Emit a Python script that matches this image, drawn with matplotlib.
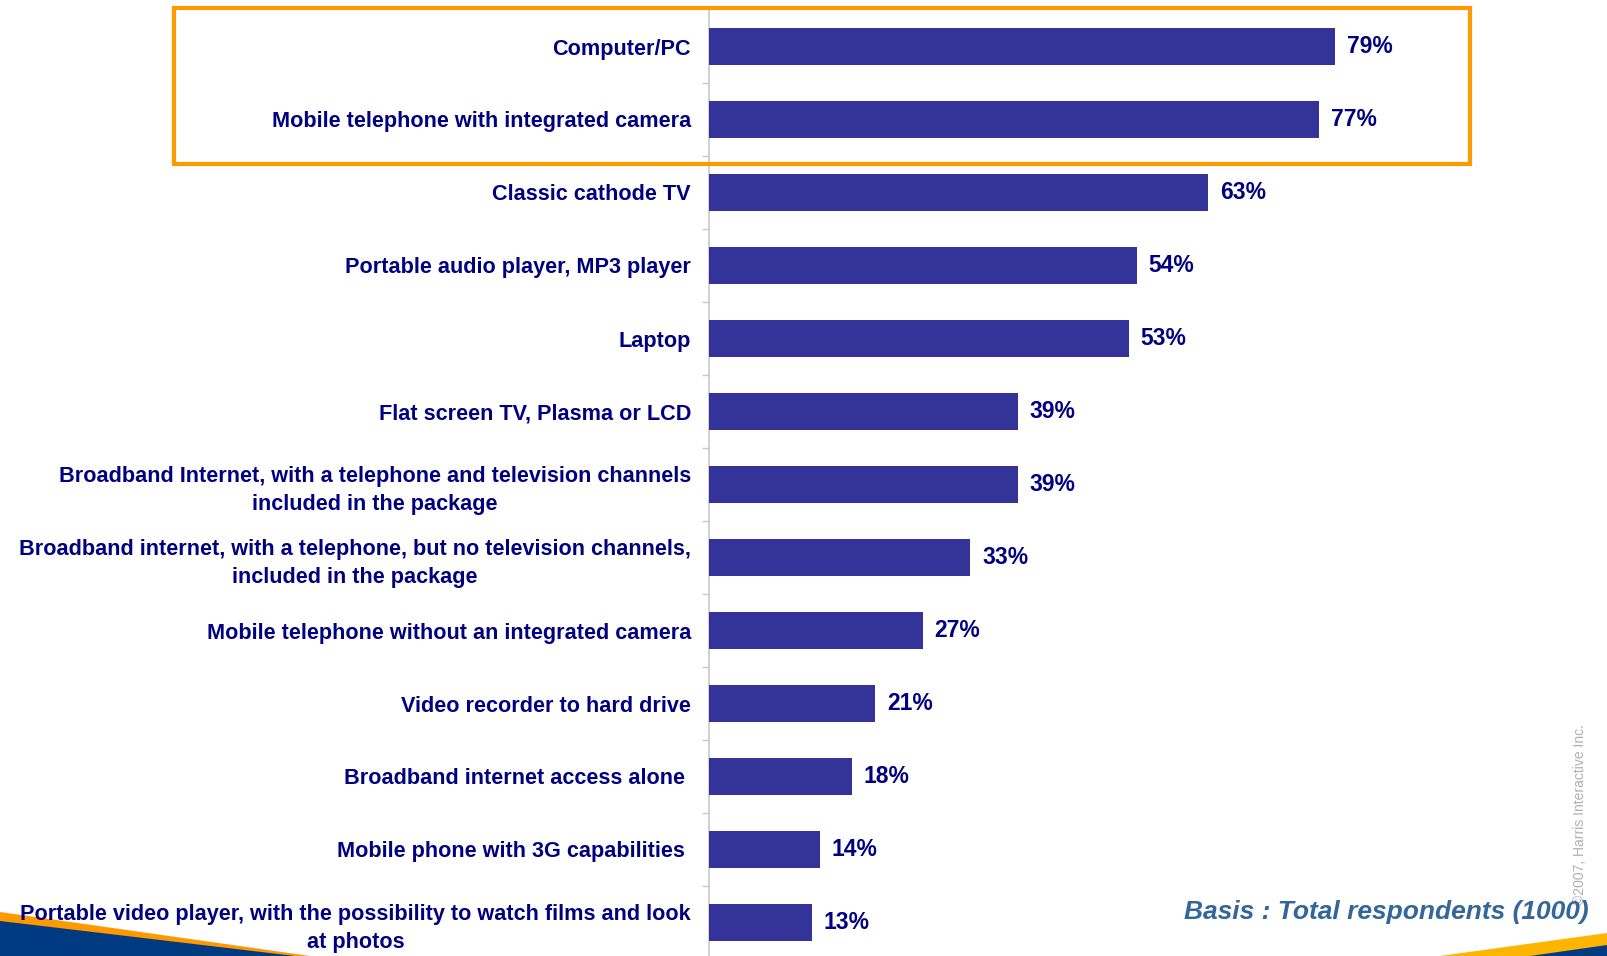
import matplotlib.pyplot as plt
from matplotlib.patches import Rectangle, Polygon
from matplotlib.transforms import blended_transform_factory

plt.rcParams['font.family'] = ['Liberation Sans', 'DejaVu Sans']

categories = [
    "Computer/PC",
    "Mobile telephone with integrated camera",
    "Classic cathode TV",
    "Portable audio player, MP3 player",
    "Laptop",
    "Flat screen TV, Plasma or LCD",
    "Broadband Internet, with a telephone and television channels\nincluded in the package",
    "Broadband internet, with a telephone, but no television channels,\nincluded in the package",
    "Mobile telephone without an integrated camera",
    "Video recorder to hard drive",
    "Broadband internet access alone ",
    "Mobile phone with 3G capabilities ",
    "Portable video player, with the possibility to watch films and look\nat photos",
]
shares = [79, 77, 63, 54, 53, 39, 39, 33, 27, 21, 18, 14, 13]
highlighted = 2  # top items framed in orange

navy = '#000080'
bar_col = '#333399'
orange = '#FF9900'
blue_dark = '#003A80'

W, H = 1607, 956
fig = plt.figure(figsize=(W / 100, H / 100), dpi=100)
ax = fig.add_axes([709 / W, -3 / H, 792 / W, 949 / H])
ax.patch.set_visible(False)

pos = list(range(len(categories)))
ax.barh(pos, shares, height=0.5, color=bar_col, zorder=3)
ax.set_xlim(0, 100)
ax.set_ylim(len(categories) - 0.5, -0.5)

for p, v in zip(pos, shares):
    ax.text(v + 1.5, p, f"{v}%", va='center', ha='left', fontsize=16.5,
            fontweight='bold', color=navy)

ax.set_yticks(pos)
ax.set_yticklabels(categories, fontsize=15.6, fontweight='bold', color=navy,
                   ha='right', multialignment='center', linespacing=1.45)
ax.tick_params(axis='y', which='major', length=0, pad=13)
ax.set_yticks([p + 0.5 for p in pos[:-1]], minor=True)
ax.tick_params(axis='y', which='minor', length=5, width=1, color='#C8C8C8')
ax.set_xticks([])
for s in ['top', 'right', 'bottom']:
    ax.spines[s].set_visible(False)
ax.spines['left'].set_color('#C8C8C8')
ax.spines['left'].set_linewidth(1.2)

# orange frame around the leading items
tr = blended_transform_factory(fig.transFigure, ax.transData)
top, bot = -0.53, highlighted - 0.5 + 0.11
fig.add_artist(Rectangle((174 / W, top), (1470 - 174) / W, bot - top,
                         transform=tr, fill=False, edgecolor=orange,
                         linewidth=3, zorder=5, clip_on=False))

# corner swooshes along the bottom edge
fig.add_artist(Polygon([(0, 1 - 912 / H), (310 / W, 0), (0, 0)],
                       closed=True, transform=fig.transFigure,
                       facecolor=orange, edgecolor='none', zorder=0))
fig.add_artist(Polygon([(0, 1 - 921 / H), (295 / W, 0), (0, 0)],
                       closed=True, transform=fig.transFigure,
                       facecolor=blue_dark, edgecolor='none', zorder=0))
fig.add_artist(Polygon([(1, 1 - 933 / H), (1440 / W, 0), (1, 0)],
                       closed=True, transform=fig.transFigure,
                       facecolor='#FFB400', edgecolor='none', zorder=0))
fig.add_artist(Polygon([(1, 1 - 945 / H), (1530 / W, 0), (1, 0)],
                       closed=True, transform=fig.transFigure,
                       facecolor=blue_dark, edgecolor='none', zorder=0))

fig.text(1580 / W, 1 - 905 / H, "\u00a92007, Harris Interactive Inc.",
         rotation=90, fontsize=10, color='#B0B0B0', ha='center', va='bottom')
fig.text(1589 / W, 1 - 912 / H, "Basis : Total respondents (1000)",
         fontsize=19, fontweight='bold', fontstyle='italic', color='#336699',
         ha='right', va='center')

fig.savefig('out.png', dpi=100)
